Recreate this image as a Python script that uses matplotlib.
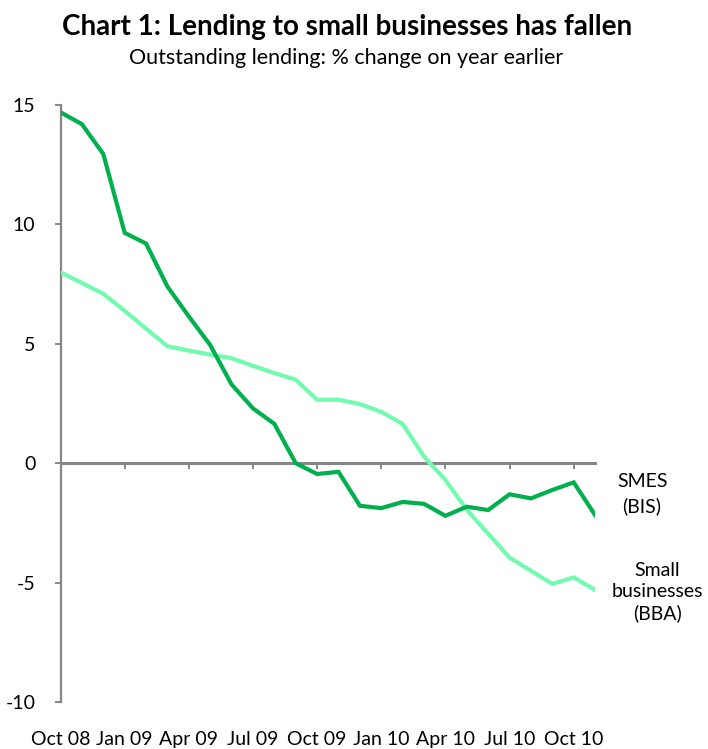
import matplotlib
matplotlib.use('Agg')
import matplotlib.pyplot as plt

# monthly observations, Oct 2008 to Nov 2010
months = list(range(26))
smes_bis = [14.7, 14.2, 12.95, 9.65, 9.2, 7.4, 6.15, 4.95, 3.3, 2.3, 1.65, 0.0, -0.45,
            -0.36, -1.78, -1.88, -1.62, -1.7, -2.2, -1.82, -1.96, -1.3, -1.47, -1.12,
            -0.8, -2.17]
small_bba = [8.0, 7.55, 7.1, 6.38, 5.64, 4.9, 4.72, 4.55, 4.4, 4.08, 3.78, 3.5, 2.66,
             2.66, 2.48, 2.15, 1.65, 0.28, -0.7, -1.95, -2.95, -3.95, -4.5, -5.05,
             -4.78, -5.3]

tick_months = [0, 3, 6, 9, 12, 15, 18, 21, 24]
tick_labels = ['Oct 08', 'Jan 09', 'Apr 09', 'Jul 09', 'Oct 09', 'Jan 10',
               'Apr 10', 'Jul 10', 'Oct 10']

plt.rcParams['font.family'] = ['Lato', 'DejaVu Sans']
axis_grey = '#868686'

fig = plt.figure(figsize=(7.08, 7.49), dpi=100)
ax = fig.add_axes([0.0855, 0.0627, 0.755, 0.797])

ax.plot(months, small_bba, color='#72fab0', lw=3.0, solid_joinstyle='miter', zorder=3)
ax.plot(months, smes_bis, color='#00b04f', lw=3.0, solid_joinstyle='miter', zorder=4)

ax.set_xlim(0, 25)
ax.set_ylim(-10, 15)
ax.set_yticks([-10, -5, 0, 5, 10, 15])
ax.set_yticklabels(['-10', '-5', '0', '5', '10', '15'])

for side in ['top', 'right', 'bottom']:
    ax.spines[side].set_visible(False)
ax.spines['left'].set_color(axis_grey)
ax.spines['left'].set_linewidth(1.6)
ax.tick_params(axis='y', direction='out', length=4, width=1.4, color=axis_grey,
               labelsize=14, pad=14)

# category labels along the bottom, tick marks on the zero line
ax.set_xticks(tick_months)
ax.set_xticklabels(tick_labels)
ax.tick_params(axis='x', length=0, labelsize=14, pad=21)

zero_axis = ax.secondary_xaxis(0.4)
zero_axis.spines['bottom'].set_color(axis_grey)
zero_axis.spines['bottom'].set_linewidth(2.2)
zero_axis.set_xticks(tick_months[1:])
zero_axis.tick_params(axis='x', direction='out', length=4, width=1.4, color=axis_grey,
                      labelbottom=False)
zero_axis.spines['bottom'].set_zorder(2)

ax.text(27.2, -1.3, 'SMES\n(BIS)', ha='center', va='center', fontsize=14,
        linespacing=1.45, clip_on=False)
ax.text(27.9, -5.4, 'Small\nbusinesses\n(BBA)', ha='center', va='center', fontsize=14,
        linespacing=1.3, clip_on=False)

fig.text(0.49, 0.964, 'Chart 1: Lending to small businesses has fallen', ha='center',
         va='center', fontsize=20, fontweight='bold')
fig.text(0.489, 0.923, 'Outstanding lending: % change on year earlier', ha='center',
         va='center', fontsize=15.5)

fig.savefig('out.png', dpi=100)
